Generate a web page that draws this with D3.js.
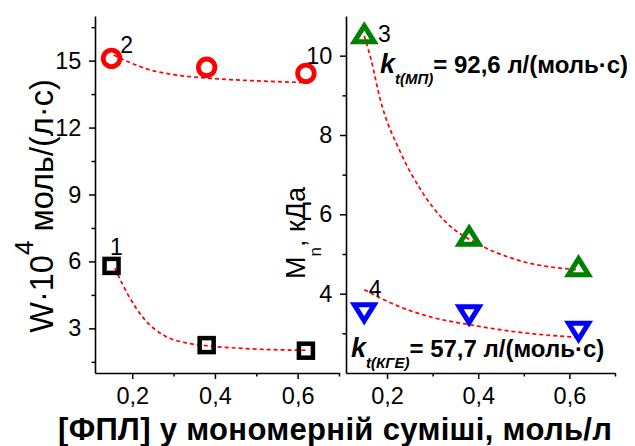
<!DOCTYPE html>
<html>
<head>
<meta charset="utf-8">
<script src="https://cdn.jsdelivr.net/npm/d3@7"></script>
<style>
  body { margin: 0; background: #fff; }
  svg { display: block; font-family: "Liberation Sans", Arial, sans-serif; }
</style>
</head>
<body>
<div id="chart"></div>
<script>
// x values, mol/L of FPL in monomer mixture
const concValues = [0.15, 0.38, 0.62];

// left panel: W*10^4, mol/(L*s)
const rateSeries1 = [5.8, 2.25, 2.0];     // 1, squares
const rateSeries2 = [15.1, 14.7, 14.43];  // 2, circles
// right panel: Mn, kDa
const mnSeries3 = [10.55, 5.45, 4.68];    // 3, triangles up
const mnSeries4 = [3.52, 3.47, 3.05];     // 4, triangles down

// fitted curves
const fit1 = [[0.158, 5.7], [0.19, 4.5], [0.23, 3.4], [0.28, 2.65], [0.33, 2.35], [0.38, 2.22], [0.45, 2.12], [0.53, 2.05], [0.62, 2.02]];
const fit2 = [[0.155, 15.25], [0.19, 14.95], [0.24, 14.6], [0.29, 14.4], [0.38, 14.22], [0.49, 14.1], [0.62, 14.02]];
const fit3 = [[0.15, 10.5], [0.165, 9.9], [0.185, 8.9], [0.23, 7.55], [0.275, 6.6], [0.325, 5.85], [0.4, 5.25], [0.48, 4.87], [0.62, 4.6]];
const fit4 = [[0.15, 4.1], [0.23, 3.66], [0.3, 3.4], [0.38, 3.22], [0.48, 3.04], [0.62, 2.9]];

const xMajor = [0.2, 0.4, 0.6];
const xMinor = [0.3, 0.5, 0.7];
const leftMajor = [3, 6, 9, 12, 15];
const leftMinor = [1.5, 4.5, 7.5, 10.5, 13.5, 16.5];
const rightMajor = [4, 6, 8, 10];
const rightMinor = [3, 5, 7, 9];

const width = 635, height = 446;
const svg = d3.select("#chart").append("svg")
  .attr("width", width).attr("height", height);

const fmt = d => d3.format(".1f")(d).replace(".", ",");

// scales
const xLeft = d3.scaleLinear().domain([0.11, 0.70]).range([95, 339]);
const yLeft = d3.scaleLinear().domain([1, 17]).range([373, 16]);
const xRight = d3.scaleLinear().domain([0.11, 0.70]).range([346, 615]);
const yRight = d3.scaleLinear().domain([2, 11]).range([373, 16]);

function drawAxes(x, y, yMajor, yMinor, yFmt) {
  const gx = svg.append("g").attr("transform", `translate(0, ${y.range()[0]})`);
  gx.call(d3.axisBottom(x).tickValues(xMajor).tickSize(6).tickSizeOuter(0).tickFormat(fmt));
  gx.call(g => g.append("g").call(d3.axisBottom(x).tickValues(xMinor).tickSize(3.5).tickSizeOuter(0).tickFormat(""))
    .select(".domain").remove());

  const gy = svg.append("g").attr("transform", `translate(${x.range()[0]}, 0)`);
  gy.call(d3.axisLeft(y).tickValues(yMajor).tickSize(6).tickSizeOuter(0).tickFormat(yFmt));
  gy.call(g => g.append("g").call(d3.axisLeft(y).tickValues(yMinor).tickSize(3.5).tickSizeOuter(0).tickFormat(""))
    .select(".domain").remove());

  svg.selectAll(".domain").attr("stroke-width", 1.6);
  svg.selectAll(".tick line").attr("stroke-width", 1.5);
  gx.selectAll(".tick text").attr("font-size", 23.5).attr("font-family", "Liberation Sans").attr("dy", "0.95em");
  gy.selectAll(".tick text").attr("font-size", 23.5).attr("font-family", "Liberation Sans").attr("dx", "-0.2em");
}

drawAxes(xLeft, yLeft, leftMajor, leftMinor, d3.format("d"));
drawAxes(xRight, yRight, rightMajor, rightMinor, d3.format("d"));

// fit lines
const lineL = d3.line().x(d => xLeft(d[0])).y(d => yLeft(d[1])).curve(d3.curveMonotoneX);
const lineR = d3.line().x(d => xRight(d[0])).y(d => yRight(d[1])).curve(d3.curveMonotoneX);

[[fit1, lineL], [fit2, lineL], [fit3, lineR], [fit4, lineR]].forEach(([pts, ln]) => {
  svg.append("path")
    .attr("d", ln(pts))
    .attr("fill", "none")
    .attr("stroke", "#ff0000")
    .attr("stroke-width", 1.7)
    .attr("stroke-dasharray", "4,3");
});

// markers
function triPath(w, h, down) {
  const s = down ? -1 : 1;
  return `M0,${-s * h / 2}L${w / 2},${s * h / 2}L${-w / 2},${s * h / 2}Z`;
}

svg.append("g").selectAll("rect")
  .data(rateSeries1).join("rect")
  .attr("x", (d, i) => xLeft(concValues[i]) - 7)
  .attr("y", d => yLeft(d) - 7)
  .attr("width", 14).attr("height", 14)
  .attr("fill", "none").attr("stroke", "#000").attr("stroke-width", 4.5);

svg.append("g").selectAll("circle")
  .data(rateSeries2).join("circle")
  .attr("cx", (d, i) => xLeft(concValues[i]))
  .attr("cy", d => yLeft(d))
  .attr("r", 8.3)
  .attr("fill", "none").attr("stroke", "#ff0000").attr("stroke-width", 4.8);

svg.append("g").selectAll("path")
  .data(mnSeries3).join("path")
  .attr("transform", (d, i) => `translate(${xRight(concValues[i])}, ${yRight(d)})`)
  .attr("d", triPath(20, 16, false))
  .attr("fill", "none").attr("stroke", "#008000").attr("stroke-width", 5);

svg.append("g").selectAll("path")
  .data(mnSeries4).join("path")
  .attr("transform", (d, i) => `translate(${xRight(concValues[i])}, ${yRight(d)})`)
  .attr("d", triPath(20, 16, true))
  .attr("fill", "none").attr("stroke", "#0000ff").attr("stroke-width", 5);

// curve numbers
const numLabels = [
  { t: "1", x: xLeft(0.146), y: yLeft(6.29) },
  { t: "2", x: xLeft(0.171), y: yLeft(15.35) },
  { t: "3", x: xRight(0.18), y: yRight(10.34) },
  { t: "4", x: xRight(0.16), y: yRight(3.92) }
];
svg.append("g").selectAll("text")
  .data(numLabels).join("text")
  .attr("x", d => d.x).attr("y", d => d.y)
  .attr("font-size", 23)
  .text(d => d.t);

// rate constants
function kLabel(x, y, sub, rest) {
  const t = svg.append("text").attr("x", x).attr("y", y)
    .attr("font-weight", "bold").attr("font-size", 24);
  t.append("tspan").attr("font-style", "italic").attr("font-size", 27).text("k");
  t.append("tspan").attr("font-style", "italic").attr("font-size", 15).attr("dy", 11).text(sub);
  t.append("tspan").attr("dy", -11).text(rest);
}
kLabel(380, 73, "t(МП)", "= 92,6 л/(моль·с)");
kLabel(351, 357, "t(КГЕ)", "= 57,7 л/(моль·с)");

// axis titles
const yTitleL = svg.append("text")
  .attr("transform", "translate(53, 206) rotate(-90)")
  .attr("text-anchor", "middle")
  .attr("font-size", 32.5);
yTitleL.append("tspan").text("W·10");
yTitleL.append("tspan").attr("font-size", 26).attr("dy", -20).text("4");
yTitleL.append("tspan").attr("dy", 20).text(" моль/(л·с)");

const yTitleR = svg.append("text")
  .attr("transform", "translate(305, 233) rotate(-90)")
  .attr("text-anchor", "middle")
  .attr("font-size", 27);
yTitleR.append("tspan").text("M");
yTitleR.append("tspan").attr("font-size", 17).attr("dy", 16).text("n");
yTitleR.append("tspan").attr("dy", -16).text(", кДа");

svg.append("text")
  .attr("x", 335).attr("y", 440)
  .attr("text-anchor", "middle")
  .attr("font-weight", "bold")
  .attr("font-size", 31)
  .attr("textLength", 554)
  .attr("lengthAdjust", "spacing")
  .text("[ФПЛ] у мономерній суміші, моль/л");
</script>
</body>
</html>
